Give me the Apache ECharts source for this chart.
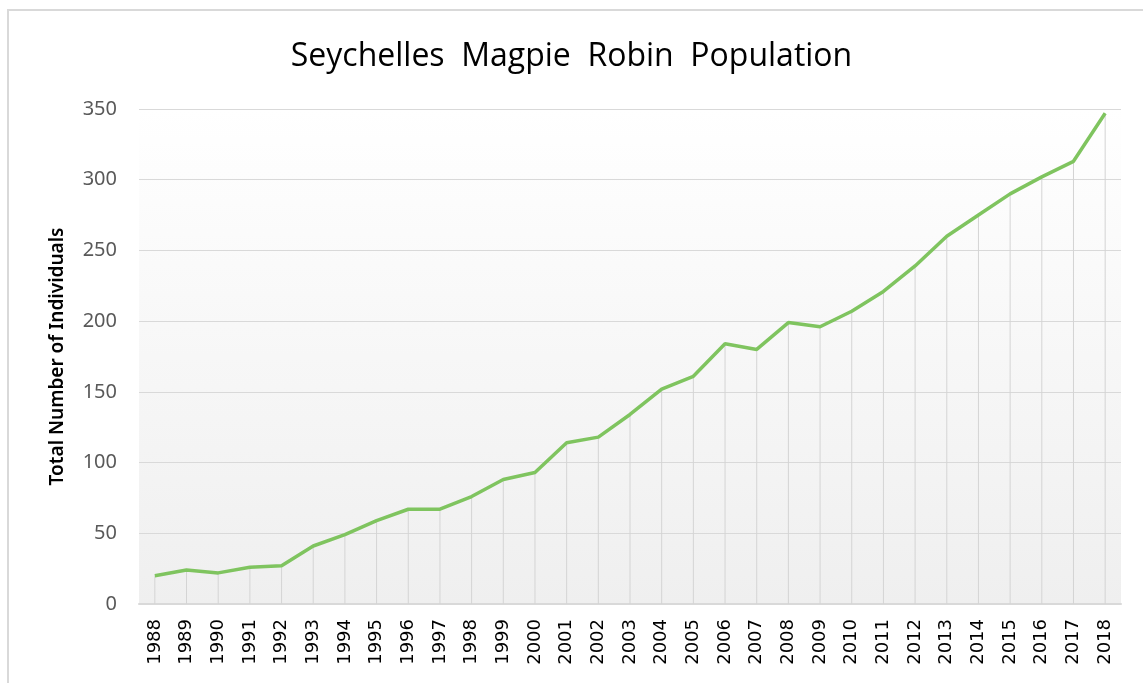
<!DOCTYPE html>
<html style="height: 100%">
<head>
  <meta charset="utf-8">
  <title>Seychelles Magpie Robin Population</title>
</head>
<body style="height: 100%; margin: 0; background: #fff">
  <div id="container" style="width: 1143px; height: 683px;"></div>
  <script src="https://cdn.jsdelivr.net/npm/echarts@6/dist/echarts.min.js"></script>
  <script>
    // years on the x axis
    var years = ['1988', '1989', '1990', '1991', '1992', '1993', '1994', '1995', '1996', '1997',
      '1998', '1999', '2000', '2001', '2002', '2003', '2004', '2005', '2006', '2007',
      '2008', '2009', '2010', '2011', '2012', '2013', '2014', '2015', '2016', '2017', '2018'];
    // total number of individuals
    var population = [20, 24, 22, 26, 27, 41, 49, 59, 67, 67,
      76, 88, 93, 114, 118, 134, 152, 161, 184, 180,
      199, 196, 207, 221, 239, 260, 275, 290, 302, 313, 347];

    var chart = echarts.init(document.getElementById('container'), null, { renderer: 'canvas' });

    var option = {
      backgroundColor: '#fff',
      animation: false,
      title: {
        text: 'Seychelles  Magpie  Robin  Population',
        left: 'center',
        top: 36,
        textStyle: { fontFamily: 'Open Sans', fontSize: 32, fontWeight: 'normal', color: '#000' }
      },
      graphic: [
        {
          type: 'rect',
          shape: { x: 8, y: 10, width: 1200, height: 700 },
          style: { fill: 'none', stroke: '#d9d9d9', lineWidth: 2 },
          silent: true
        }
      ],
      grid: {
        left: 139, right: 22, top: 109, bottom: 79,
        show: true,
        borderWidth: 0,
        backgroundColor: new echarts.graphic.LinearGradient(0, 0, 0, 1, [
          { offset: 0, color: '#ffffff' },
          { offset: 1, color: '#efefef' }
        ])
      },
      xAxis: {
        type: 'category',
        data: years,
        boundaryGap: true,
        axisLine: { lineStyle: { color: '#d9d9d9', width: 2 } },
        axisTick: { show: false },
        axisLabel: {
          rotate: 90, margin: 15, interval: 0,
          fontFamily: 'DejaVu Sans', fontSize: 18, color: '#000'
        },
        splitLine: { show: false }
      },
      yAxis: {
        type: 'value',
        min: 0, max: 350, interval: 50,
        name: 'Total Number of Individuals',
        nameLocation: 'center',
        nameGap: 72,
        nameTextStyle: { fontFamily: 'Noto Sans', fontSize: 19, fontWeight: 600, color: '#000' },
        axisLine: { show: false },
        axisTick: { show: false },
        axisLabel: { margin: 22, fontFamily: 'Noto Sans', fontSize: 20, color: '#595959' },
        splitLine: { lineStyle: { color: '#d9d9d9', width: 1 } }
      },
      series: [
        {
          // drop lines from each point to the axis
          type: 'bar',
          data: population,
          barWidth: 1,
          itemStyle: { color: '#d4d4d4' },
          silent: true,
          z: 1
        },
        {
          type: 'line',
          data: population,
          symbol: 'none',
          lineStyle: { color: '#7fc45f', width: 3.5 },
          z: 3
        }
      ]
    };

    chart.setOption(option);
  </script>
</body>
</html>
